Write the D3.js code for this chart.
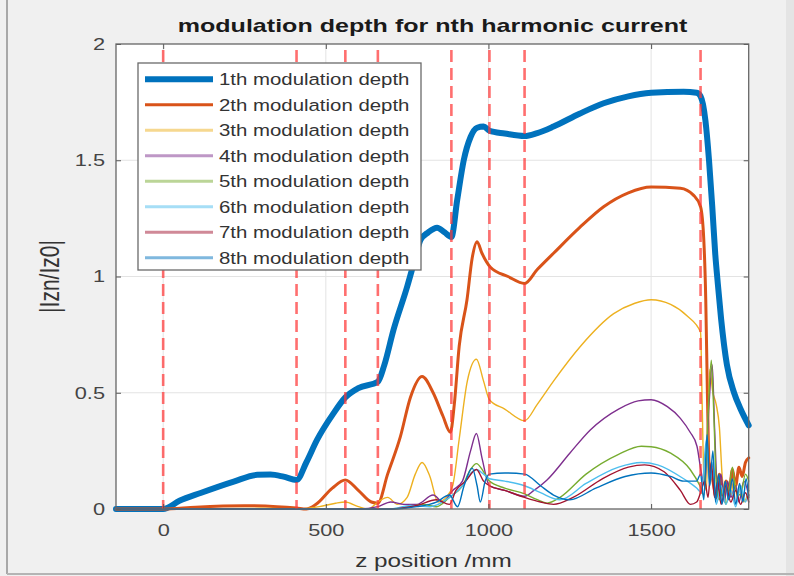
<!DOCTYPE html>
<html>
<head>
<meta charset="utf-8">
<script src="https://cdn.jsdelivr.net/npm/d3@7"></script>
<style>
  body { margin: 0; background: #f0f0f0; }
  text { font-family: "Liberation Sans", Arial, sans-serif; }
</style>
</head>
<body>
<svg></svg>
<script>
// series data, [z position (mm), |Izn/Iz0|]
var depth1 = [[-145,0],[0,0],[50,0.035],[115,0.069],[217,0.118],[289,0.147],[330,0.148],[370,0.139],[410,0.125],
  [440,0.2],[473,0.297],[523,0.41],[560,0.48],[600,0.52],[660,0.547],[680,0.62],[708,0.77],[750,0.956],[775,1.08],
  [791,1.157],[815,1.19],[842,1.21],[865,1.19],[886,1.17],[904,1.33],[924,1.5],[945,1.6],[965,1.64],[985,1.645],
  [1003,1.627],[1050,1.615],[1111,1.604],[1150,1.617],[1200,1.645],[1280,1.7],[1354,1.745],[1430,1.775],[1500,1.79],
  [1600,1.795],[1640,1.79],[1652,1.775],[1667,1.67],[1678,1.5],[1688,1.3],[1697,1.1],[1705,0.97],[1715,0.82],
  [1733,0.62],[1755,0.5],[1775,0.43],[1800,0.36]];
var depth2 = [[-145,0],[0,0],[100,0.008],[250,0.014],[350,0.01],[410,0.004],[440,0],[470,0.02],[520,0.09],[560,0.125],
  [600,0.08],[640,0.03],[660,0.025],[690,0.15],[729,0.31],[760,0.48],[796,0.57],[830,0.5],[860,0.4],[883,0.33],
  [895,0.45],[910,0.7],[934,0.9],[950,1.08],[965,1.15],[980,1.1],[1006,1.04],[1060,1.0],[1111,0.97],[1150,1.03],
  [1200,1.1],[1280,1.21],[1354,1.3],[1430,1.36],[1500,1.385],[1590,1.38],[1630,1.35],[1652,1.3],[1662,1.157],
  [1668,0.9],[1673,0.5],[1678,0.2],[1690,0.12],[1700,0.05],[1710,0.15],[1720,0.06],[1730,0.12],[1740,0.08],
  [1750,0.17],[1760,0.1],[1770,0.18],[1780,0.14],[1790,0.2],[1800,0.22]];
var depth3 = [[-145,0],[0,0],[300,0.003],[410,0],[480,0.01],[530,0.025],[560,0.03],[600,0.01],[630,0],[660,0.03],
  [690,0.05],[720,0.02],[750,0.05],[775,0.15],[796,0.2],[820,0.14],[845,0.03],[870,0.05],[890,0.1],[910,0.3],
  [935,0.55],[963,0.644],[985,0.55],[1003,0.47],[1050,0.43],[1111,0.38],[1150,0.45],[1200,0.55],[1283,0.7],
  [1385,0.84],[1450,0.885],[1500,0.9],[1560,0.88],[1611,0.83],[1652,0.76],[1657,0.45],[1662,0.15],[1670,0.08],
  [1680,0.6],[1690,0.5],[1700,0.45],[1710,0.35],[1718,0.15],[1725,0.05],[1735,0.12],[1745,0.06],[1755,0.13],
  [1765,0.05],[1775,0.1],[1785,0.03],[1800,0.08]];
var depth4 = [[-145,0],[0,0],[600,0],[660,0.01],[700,0.03],[740,0.02],[780,0.02],[830,0.06],[860,0.03],[890,0.08],
  [920,0.12],[945,0.25],[963,0.325],[980,0.22],[1003,0.1],[1050,0.08],[1111,0.055],[1140,0.08],[1180,0.125],
  [1250,0.24],[1313,0.34],[1400,0.43],[1460,0.465],[1500,0.47],[1550,0.44],[1590,0.39],[1620,0.33],[1641,0.27],
  [1655,0.15],[1665,0.1],[1678,0.45],[1688,0.62],[1695,0.35],[1705,0.08],[1715,0.15],[1725,0.03],[1735,0.12],
  [1745,0.05],[1760,0.1],[1770,0.03],[1785,0.12],[1800,0.06]];
var depth5 = [[-145,0],[0,0],[700,0],[760,0.01],[800,0.02],[840,0.01],[880,0.05],[920,0.1],[945,0.17],[963,0.195],
  [985,0.16],[1003,0.12],[1050,0.09],[1111,0.065],[1150,0.04],[1180,0.025],[1220,0.05],[1300,0.15],[1400,0.235],
  [1470,0.27],[1500,0.268],[1560,0.24],[1620,0.17],[1650,0.1],[1662,0.06],[1675,0.4],[1685,0.64],[1693,0.4],
  [1700,0.12],[1710,0.04],[1720,0.08],[1730,0.02],[1740,0.09],[1750,0.18],[1760,0.08],[1775,0.06],[1790,0.15],
  [1800,0.12]];
var depth6 = [[-145,0],[0,0],[700,0],[760,0.015],[820,0.01],[880,0.05],[920,0.1],[950,0.16],[963,0.17],[985,0.15],
  [1003,0.13],[1050,0.12],[1111,0.1],[1160,0.07],[1220,0.04],[1300,0.11],[1400,0.18],[1470,0.2],[1520,0.19],
  [1600,0.13],[1640,0.09],[1655,0.07],[1670,0.3],[1680,0.1],[1690,0.2],[1700,0.02],[1715,0.1],[1730,0.02],
  [1745,0.08],[1760,0.01],[1775,0.1],[1790,0.03],[1800,0.08]];
var depth7 = [[-145,0],[0,0],[700,0],[780,0.015],[840,0.04],[880,0.02],[900,0.08],[930,0.12],[963,0.17],[985,0.12],
  [1003,0.1],[1050,0.08],[1111,0.05],[1160,0.03],[1200,0.02],[1260,0.05],[1350,0.13],[1430,0.18],[1480,0.19],
  [1540,0.16],[1590,0.08],[1621,0.02],[1640,0.03],[1652,0.07],[1665,0.12],[1675,0.05],[1685,0.2],[1695,0.05],
  [1705,0.12],[1715,0.02],[1730,0.1],[1745,0.03],[1760,0.08],[1775,0.02],[1790,0.07],[1800,0.03]];
var depth8 = [[-145,0],[0,0],[700,0],[780,0.01],[840,0.03],[880,0.06],[905,0.01],[925,0.1],[950,0.176],[965,0.1],
  [975,0.03],[990,0.12],[1003,0.15],[1050,0.155],[1111,0.15],[1160,0.1],[1200,0.06],[1250,0.04],[1330,0.09],
  [1420,0.14],[1500,0.155],[1560,0.14],[1600,0.12],[1640,0.12],[1652,0.15],[1662,0.04],[1672,0.32],[1680,0.1],
  [1690,0.25],[1698,0.03],[1708,0.15],[1718,0.02],[1728,0.12],[1738,0.04],[1750,0.13],[1760,0.02],[1772,0.11],
  [1782,0.03],[1792,0.13],[1800,0.05]];

var seriesNames = ["1th modulation depth", "2th modulation depth", "3th modulation depth", "4th modulation depth",
  "5th modulation depth", "6th modulation depth", "7th modulation depth", "8th modulation depth"];
var seriesColors = ["#0072bd", "#d95319", "#edb120", "#7e2f8e", "#77ac30", "#4dbeee", "#a2142f", "#0072bd"];
var seriesWidths = [6, 3, 1.4, 1.4, 1.4, 1.4, 1.4, 1.4];

// red dashed boundaries (z positions)
var boundaries = [0, 410, 560, 660, 886, 1003, 1111, 1652];

var xTicks = [0, 500, 1000, 1500];
var yTicks = [0, 0.5, 1, 1.5, 2];

var titleText = "modulation depth for nth harmonic current";
var xLabel = "z position /mm";
var yLabel = "|Izn/Iz0|";

window.onload = function() {
  var width = 794, height = 576;
  var sx = 1.28; // text in the picture is stretched sideways

  var svg = d3.select("svg").attr("width", width).attr("height", height);

  // figure background + frame
  svg.append("rect").attr("width", width).attr("height", height).attr("fill", "#f0f0f0");
  svg.append("rect").attr("x", 786).attr("width", 8).attr("height", height).attr("fill", "#e4e4e4");
  svg.append("line").attr("x1", 7).attr("x2", 7).attr("y1", 0).attr("y2", 574)
    .attr("stroke", "#a8a8a8").attr("stroke-width", 2);
  svg.append("line").attr("x1", 7).attr("x2", width).attr("y1", 574).attr("y2", 574)
    .attr("stroke", "#b4b4b4").attr("stroke-width", 2);

  var margin = { top: 44, right: 45.3, bottom: 67, left: 116 };
  var w = width - margin.left - margin.right;
  var h = height - margin.top - margin.bottom;

  var g = svg.append("g").attr("transform", "translate(" + margin.left + "," + margin.top + ")");

  var x = d3.scaleLinear().domain([-145, 1800]).range([0, w]);
  var y = d3.scaleLinear().domain([0, 2]).range([h, 0]);

  g.append("rect").attr("width", w).attr("height", h).attr("fill", "#fff");

  // grid
  g.append("g").selectAll("line").data(xTicks).enter().append("line")
    .attr("x1", function(d) { return x(d); }).attr("x2", function(d) { return x(d); })
    .attr("y1", 0).attr("y2", h)
    .attr("stroke", "#e3e3e3").attr("stroke-width", 1);
  g.append("g").selectAll("line").data(yTicks.slice(1, -1)).enter().append("line")
    .attr("x1", 0).attr("x2", w)
    .attr("y1", function(d) { return y(d); }).attr("y2", function(d) { return y(d); })
    .attr("stroke", "#e3e3e3").attr("stroke-width", 1);

  // curves
  var line = d3.line()
    .x(function(d) { return x(d[0]); })
    .y(function(d) { return y(d[1]); })
    .curve(d3.curveMonotoneX);

  var allSeries = [depth1, depth2, depth3, depth4, depth5, depth6, depth7, depth8];
  g.append("g").selectAll("path").data(allSeries).enter().append("path")
    .attr("d", line)
    .attr("fill", "none")
    .attr("stroke", function(d, i) { return seriesColors[i]; })
    .attr("stroke-width", function(d, i) { return seriesWidths[i]; })
    .attr("stroke-linejoin", "round")
    .attr("stroke-linecap", "round");

  // dashed boundaries
  g.append("g").selectAll("line").data(boundaries).enter().append("line")
    .attr("x1", function(d) { return x(d); }).attr("x2", function(d) { return x(d); })
    .attr("y1", y(2)).attr("y2", y(0))
    .attr("stroke", "#ff3838").attr("stroke-opacity", 0.72)
    .attr("stroke-width", 2.6)
    .attr("stroke-dasharray", "12,6").attr("stroke-dashoffset", 12);

  // axes
  var xAxis = g.append("g").attr("transform", "translate(0," + h + ")")
    .call(d3.axisBottom(x).tickValues(xTicks).tickFormat(d3.format("d"))
      .tickSizeInner(-5).tickSizeOuter(0).tickPadding(15));
  var yAxis = g.append("g")
    .call(d3.axisLeft(y).tickValues(yTicks).tickFormat(d3.format("")).tickSizeInner(-5).tickSizeOuter(0).tickPadding(11 / sx));
  g.append("g").call(d3.axisTop(x).tickValues(xTicks).tickFormat("").tickSizeInner(-5).tickSizeOuter(0));
  g.append("g").attr("transform", "translate(" + w + ",0)")
    .call(d3.axisRight(y).tickValues(yTicks).tickFormat("").tickSizeInner(-5).tickSizeOuter(0));

  g.selectAll(".domain").remove();
  g.selectAll(".tick line").attr("stroke", "#555");
  [xAxis, yAxis].forEach(function(ax) {
    ax.selectAll("text")
      .attr("font-size", 17)
      .attr("fill", "#444")
      .attr("transform", "scale(" + sx + ",1)");
  });

  g.append("rect").attr("width", w).attr("height", h)
    .attr("fill", "none").attr("stroke", "#666").attr("stroke-width", 1.3);

  // legend
  var legend = g.append("g").attr("transform", "translate(22,19)");
  legend.append("rect").attr("width", 283).attr("height", 207)
    .attr("fill", "#fff").attr("stroke", "#6a6a6a").attr("stroke-width", 1.3);
  var row = legend.selectAll(".row").data(seriesNames).enter().append("g")
    .attr("class", "row")
    .attr("transform", function(d, i) { return "translate(0," + (16.3 + i * 25.5) + ")"; });
  row.append("line")
    .attr("x1", 7).attr("x2", 75)
    .attr("stroke", function(d, i) { return seriesColors[i]; })
    .attr("stroke-width", function(d, i) { return i === 0 ? 6 : 3; })
    .attr("stroke-opacity", function(d, i) { return i < 2 ? 1 : 0.5; });
  row.append("text")
    .attr("transform", "translate(81,6) scale(1.2,1)")
    .attr("font-size", 17)
    .attr("fill", "#333")
    .text(function(d) { return d; });

  // title and labels
  svg.append("text")
    .attr("transform", "translate(432.5,31.5) scale(1.32,1)")
    .attr("text-anchor", "middle")
    .attr("font-size", 19)
    .attr("font-weight", "bold")
    .attr("fill", "#1a1a1a")
    .text(titleText);

  svg.append("text")
    .attr("transform", "translate(433.5,566.5) scale(" + sx + ",1)")
    .attr("text-anchor", "middle")
    .attr("font-size", 19)
    .attr("fill", "#333")
    .text(xLabel);

  svg.append("text")
    .attr("transform", "translate(59,276.5) scale(" + sx + ",1) rotate(-90)")
    .attr("text-anchor", "middle")
    .attr("font-size", 21)
    .attr("fill", "#333")
    .text(yLabel);
};
</script>
</body>
</html>
